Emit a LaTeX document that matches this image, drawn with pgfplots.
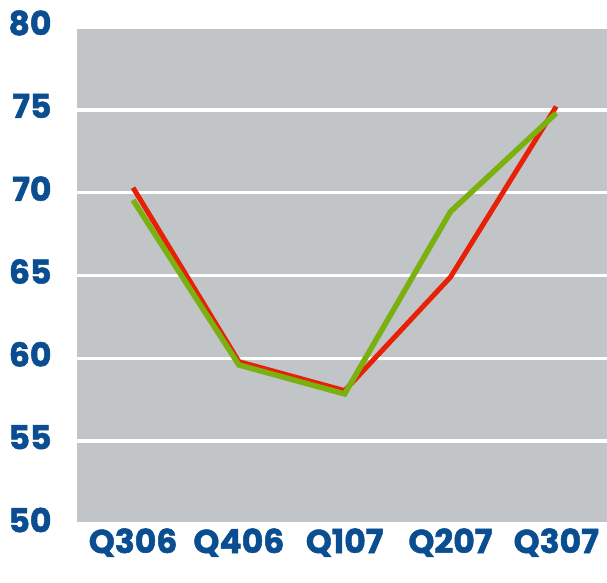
\documentclass[border=0pt]{standalone}
\usepackage{pgfplots}
\pgfplotsset{compat=1.18}
\usepackage{fontspec}
\setmainfont{Poppins}
\newfontfamily\lblfont{Poppins}[BoldFeatures={FakeBold=1.6}]
\definecolor{bggray}{RGB}{194,197,200}
\definecolor{lblue}{RGB}{10,78,145}
\definecolor{lred}{RGB}{232,32,8}
\definecolor{lgreen}{RGB}{122,176,16}
\begin{document}
\begin{tikzpicture}[x=1pt,y=1pt]
\useasboundingbox (0,0) rectangle (607,582);
\begin{axis}[
  at={(77pt,58pt)}, anchor=south west,
  scale only axis, width=530pt, height=497pt,
  xmin=-0.53, xmax=4.48, ymin=50, ymax=80,
  axis line style={draw=none},
  axis background/.style={fill=bggray},
  xtick={0,1,2,3,4},
  xticklabels={Q306,Q406,Q107,Q207,Q307},
  ytick={50,55,60,65,70,75,80},
  major tick length=0pt,
  ymajorgrids, grid style={white, line width=3.5pt},
  tick label style={font=\fontsize{33}{38}\lblfont\bfseries, text=lblue},
  /pgf/number format/assume math mode=true,
  xticklabel style={anchor=base, yshift=-29pt},
  yticklabel style={anchor=east, xshift=-22pt, yshift=4pt},
  clip=false,
]
\addplot[lred, line width=5pt, line join=miter] coordinates {
  (0,70.3) (1,59.8) (2,58.05) (3,64.9) (4,75.2)};
\addplot[lgreen, line width=5.5pt, line join=miter] coordinates {
  (0,69.55) (1,59.6) (2,57.85) (3,68.85) (4,74.8)};
\end{axis}
\end{tikzpicture}
\end{document}
